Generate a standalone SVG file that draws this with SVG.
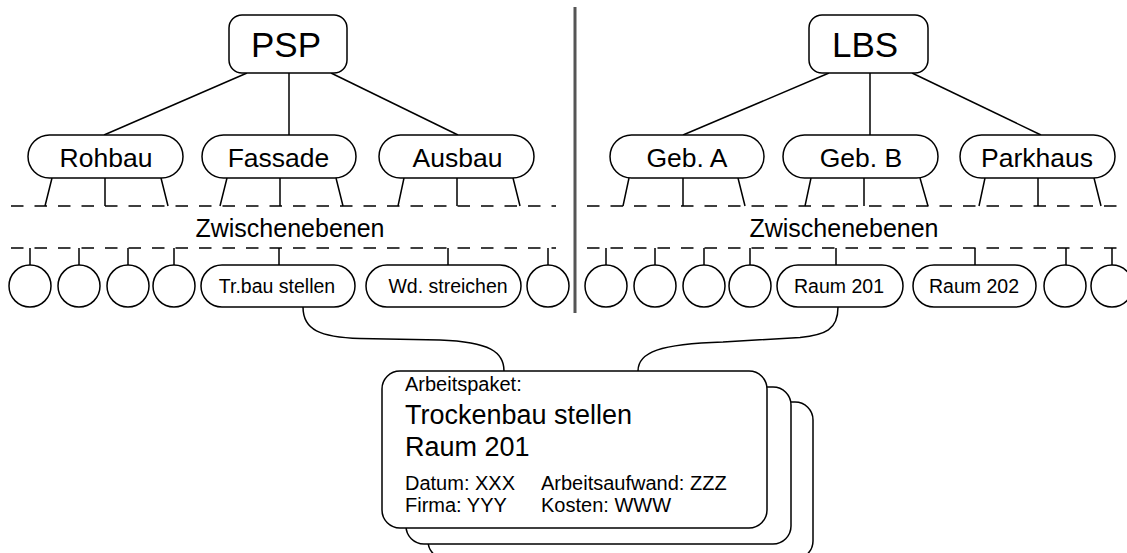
<svg xmlns="http://www.w3.org/2000/svg" width="1127" height="553" viewBox="0 0 1127 553">
  <style>
    text { font-family: "Liberation Sans", Arial, Helvetica, sans-serif; fill: #000; }
    .box { fill: #fff; stroke: #000; stroke-width: 1.5; }
    .ln { fill: none; stroke: #000; stroke-width: 1.5; }
    .dash { fill: none; stroke: #000; stroke-width: 1.5; stroke-dasharray: 12.5 11; }
    .root { font-size: 35px; }
    .l1 { font-size: 26.5px; text-anchor: middle; }
    .l2 { font-size: 19.5px; text-anchor: middle; }
    .mid { font-size: 25px; text-anchor: middle; }
    .sm { font-size: 20px; }
    .lg { font-size: 27px; }
  </style>

  <!-- separator between the two breakdown structures -->
  <line id="divider" x1="575" y1="7" x2="575" y2="313" stroke="#555" stroke-width="3"/>

  <!-- connectors -->
  <g id="connectors" class="ln">
    <!-- PSP tree -->
    <line x1="247" y1="73" x2="104" y2="135"/>
    <line x1="289" y1="73" x2="289" y2="135"/>
    <line x1="331" y1="73" x2="458" y2="135"/>
    <!-- LBS tree -->
    <line x1="829" y1="73" x2="683" y2="135"/>
    <line x1="870" y1="73" x2="870" y2="135"/>
    <line x1="912" y1="73" x2="1041" y2="135"/>
    <!-- stubs into the intermediate levels -->
    <path d="M52,178 L45,206 M105,178 L105,206 M161,178 L168,206"/>
    <path d="M227,178 L220,206 M280,178 L280,206 M336,178 L343,206"/>
    <path d="M404,178 L398,206 M457,178 L457,206 M513,178 L520,206"/>
    <path d="M629,178 L623,206 M683,178 L683,206 M738,178 L745,206"/>
    <path d="M811,178 L805,206 M864,178 L864,206 M920,178 L928,206"/>
    <path d="M985,178 L979,206 M1038,178 L1038,206 M1094,178 L1101,206"/>
    <!-- stubs down to the work packages -->
    <path d="M30,248 V265 M79,248 V265 M128,248 V265 M174,248 V265 M279,248 V265 M448,248 V265 M548,248 V265"/>
    <path d="M606,248 V265 M655,248 V265 M704,248 V265 M750,248 V265 M836,248 V265 M975,248 V265 M1066,248 V265 M1112,248 V265"/>
    <!-- links to the work package card -->
    <path d="M303,307 C303,330 320,337 360,338.5 L440,340 C490,342 504,352 504,371"/>
    <path d="M838,307 C838,330 825,335 800,337.5 L723,342 C660,344 638,352 638,371"/>
  </g>

  <!-- intermediate level boundaries -->
  <g id="levels">
    <line class="dash" x1="11" y1="206" x2="556" y2="206"/>
    <line class="dash" x1="11" y1="248" x2="556" y2="248"/>
    <line class="dash" x1="587" y1="206" x2="1127" y2="206"/>
    <line class="dash" x1="587" y1="248" x2="1127" y2="248"/>
    <text class="mid" x="290" y="237">Zwischenebenen</text>
    <text class="mid" x="844" y="237">Zwischenebenen</text>
  </g>

  <!-- PSP side -->
  <g id="psp">
    <rect class="box" x="229" y="15" width="118" height="58" rx="13"/>
    <text class="root" x="251" y="57">PSP</text>
  </g>
  <g id="rohbau">
    <rect class="box" x="28" y="135" width="155" height="43" rx="21.5"/>
    <text class="l1" x="106" y="167">Rohbau</text>
  </g>
  <g id="fassade">
    <rect class="box" x="202" y="135" width="154" height="43" rx="21.5"/>
    <text class="l1" x="278.5" y="167">Fassade</text>
  </g>
  <g id="ausbau">
    <rect class="box" x="379" y="135" width="155" height="43" rx="21.5"/>
    <text class="l1" x="457.5" y="167">Ausbau</text>
  </g>
  <g id="psp-packages">
    <circle class="box" cx="30" cy="286" r="21"/>
    <circle class="box" cx="79" cy="286" r="21"/>
    <circle class="box" cx="128" cy="286" r="21"/>
    <circle class="box" cx="174" cy="286" r="21"/>
    <circle class="box" cx="548" cy="286" r="21"/>
  </g>
  <g id="trbau">
    <rect class="box" x="201" y="265" width="154" height="42" rx="21"/>
    <text class="l2" x="277" y="292.5">Tr.bau stellen</text>
  </g>
  <g id="wd">
    <rect class="box" x="366" y="265" width="155" height="42" rx="21"/>
    <text class="l2" x="448" y="292.5">Wd. streichen</text>
  </g>

  <!-- LBS side -->
  <g id="lbs">
    <rect class="box" x="809" y="15" width="119" height="58" rx="13"/>
    <text class="root" x="832" y="57">LBS</text>
  </g>
  <g id="geb-a">
    <rect class="box" x="610" y="135" width="154" height="43" rx="21.5"/>
    <text class="l1" x="687" y="167">Geb. A</text>
  </g>
  <g id="geb-b">
    <rect class="box" x="783" y="135" width="155" height="43" rx="21.5"/>
    <text class="l1" x="861" y="167">Geb. B</text>
  </g>
  <g id="parkhaus">
    <rect class="box" x="960" y="135" width="155" height="43" rx="21.5"/>
    <text class="l1" x="1037" y="167">Parkhaus</text>
  </g>
  <g id="lbs-packages">
    <circle class="box" cx="606" cy="286" r="21"/>
    <circle class="box" cx="655" cy="286" r="21"/>
    <circle class="box" cx="704" cy="286" r="21"/>
    <circle class="box" cx="750" cy="286" r="21"/>
    <circle class="box" cx="1065" cy="286" r="21"/>
    <circle class="box" cx="1112" cy="286" r="21"/>
  </g>
  <g id="raum201">
    <rect class="box" x="777" y="265" width="126" height="42" rx="21"/>
    <text class="l2" x="839" y="292.5">Raum 201</text>
  </g>
  <g id="raum202">
    <rect class="box" x="913" y="265" width="123" height="42" rx="21"/>
    <text class="l2" x="974" y="292.5">Raum 202</text>
  </g>

  <!-- stacked work package cards -->
  <g id="arbeitspaket">
    <rect class="box" x="428" y="402" width="385" height="157" rx="18"/>
    <rect class="box" x="406" y="387" width="385" height="157" rx="18"/>
    <rect class="box" x="382" y="371" width="385" height="157" rx="18"/>
    <text class="sm" x="405" y="391">Arbeitspaket:</text>
    <text class="lg" x="405" y="424">Trockenbau stellen</text>
    <text class="lg" x="405" y="456">Raum 201</text>
    <text class="sm" x="405" y="490">Datum: XXX</text>
    <text class="sm" x="541" y="490">Arbeitsaufwand: ZZZ</text>
    <text class="sm" x="405" y="512">Firma: YYY</text>
    <text class="sm" x="541" y="512">Kosten: WWW</text>
  </g>
</svg>
